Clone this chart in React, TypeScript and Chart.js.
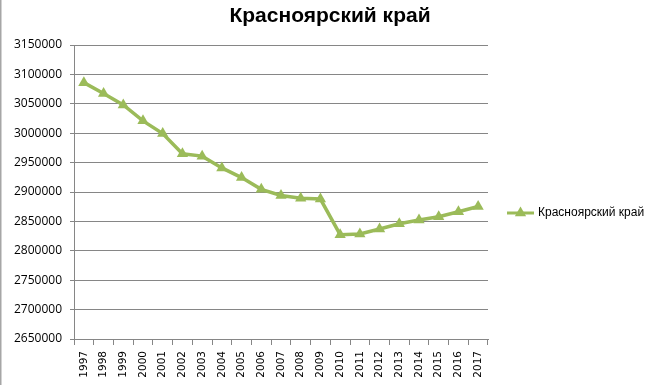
import React, { useEffect, useRef } from "react";
import { Chart, registerables } from "chart.js";

Chart.register(...registerables);

const TITLE = "Красноярский край";
const SERIES_NAME = "Красноярский край";
const YEARS = [
  "1997", "1998", "1999", "2000", "2001", "2002", "2003", "2004", "2005", "2006", "2007",
  "2008", "2009", "2010", "2011", "2012", "2013", "2014", "2015", "2016", "2017",
];
const POPULATION = [
  3086000, 3067500, 3048000, 3021000, 2999500, 2965000, 2961000, 2941000, 2924500, 2904500,
  2894000, 2889500, 2888000, 2827500, 2828500, 2837000, 2846000, 2852500, 2858000, 2866500,
  2875300,
];
const Y_MIN = 2650000;
const Y_MAX = 3150000;
const Y_STEP = 50000;

const GREEN = "#9BBB59";
const GRID = "#868686";

export default function App() {
  const ref = useRef<HTMLCanvasElement | null>(null);

  useEffect(() => {
    document.body.style.margin = "0";
    const canvas = ref.current;
    if (!canvas) return;

    const decor = {
      id: "decor",
      afterDraw(chart: any) {
        const ctx = chart.ctx;
        ctx.save();
        // left border
        ctx.strokeStyle = "#A6A6A6";
        ctx.lineWidth = 1.5;
        ctx.beginPath();
        ctx.moveTo(0.75, 0);
        ctx.lineTo(0.75, 385);
        ctx.stroke();
        // title
        ctx.fillStyle = "#000";
        ctx.font = "bold 21px 'Liberation Sans', Arial, sans-serif";
        ctx.textAlign = "center";
        ctx.textBaseline = "middle";
        ctx.fillText(TITLE, 330, 16);
        // legend
        const ly = 213;
        ctx.strokeStyle = GREEN;
        ctx.lineWidth = 3;
        ctx.beginPath();
        ctx.moveTo(507, ly);
        ctx.lineTo(534, ly);
        ctx.stroke();
        const r = 6.5;
        const cx = 520.5;
        ctx.fillStyle = GREEN;
        ctx.beginPath();
        ctx.moveTo(cx, ly - r);
        ctx.lineTo(cx + r * 0.866, ly + r * 0.5);
        ctx.lineTo(cx - r * 0.866, ly + r * 0.5);
        ctx.closePath();
        ctx.fill();
        ctx.fillStyle = "#000";
        ctx.font = "12px 'Liberation Sans', Arial, sans-serif";
        ctx.textAlign = "left";
        ctx.textBaseline = "middle";
        ctx.fillText(SERIES_NAME, 538, ly);
        ctx.restore();
      },
    };

    const chart = new Chart(canvas, {
      type: "line",
      data: {
        labels: YEARS,
        datasets: [
          {
            label: SERIES_NAME,
            data: POPULATION,
            borderColor: GREEN,
            backgroundColor: GREEN,
            borderWidth: 3.5,
            pointStyle: "triangle",
            pointRadius: 6.5,
            pointBorderWidth: 0,
            pointBackgroundColor: GREEN,
            tension: 0,
          },
        ],
      },
      options: {
        animation: false,
        responsive: false,
        maintainAspectRatio: false,
        layout: { padding: { top: 45, right: 171, bottom: 0, left: 0 } },
        plugins: {
          legend: { display: false },
          title: { display: false },
          tooltip: { enabled: false },
        },
        scales: {
          x: {
            type: "category",
            offset: true,
            grid: {
              display: true,
              drawOnChartArea: false,
              drawTicks: true,
              tickLength: 6,
              color: GRID,
              offset: true,
            },
            border: { display: true, color: GRID, width: 1 },
            ticks: {
              minRotation: 90,
              maxRotation: 90,
              autoSkip: false,
              padding: 6,
              color: "#000",
              font: { family: "'DejaVu Sans', Verdana, sans-serif", size: 10.5 },
            },
            afterFit(scale: any) {
              scale.height = 46;
            },
          },
          y: {
            min: Y_MIN,
            max: Y_MAX,
            grid: {
              color: GRID,
              lineWidth: 1,
              drawTicks: true,
              tickLength: 4,
            },
            border: { display: true, color: GRID, width: 1 },
            ticks: {
              stepSize: Y_STEP,
              padding: 8,
              color: "#000",
              font: { family: "'Open Sans', sans-serif", size: 12 },
              callback: (v: any) => String(v),
            },
            afterFit(scale: any) {
              scale.width = 74;
            },
          },
        },
      },
      plugins: [decor],
    });

    return () => chart.destroy();
  }, []);

  return (
    <div style={{ width: 659, height: 385 }}>
      <canvas ref={ref} width={659} height={385} style={{ display: "block" }} />
    </div>
  );
}
